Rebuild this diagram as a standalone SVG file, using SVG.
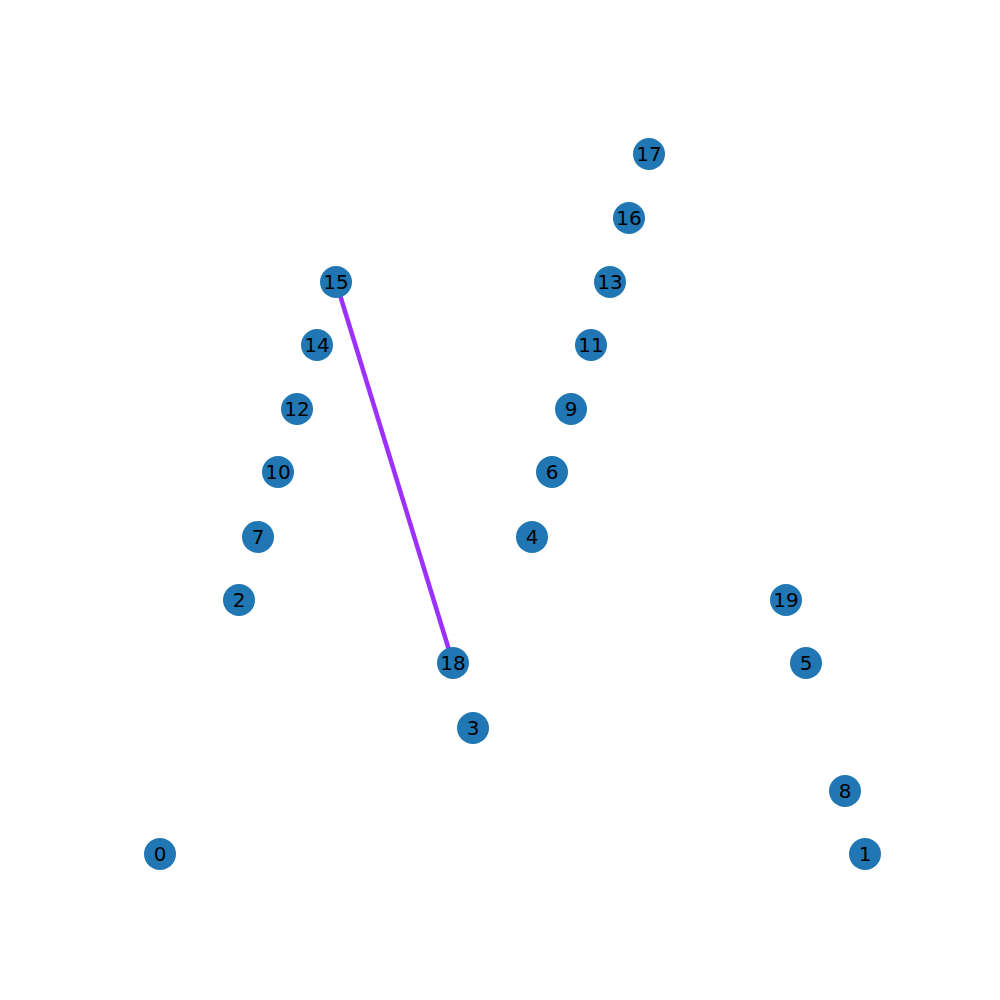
<svg xmlns="http://www.w3.org/2000/svg" width="1000" height="1000" viewBox="0 0 1000 1000">
<style>
.node circle{fill:#2077b4}
.node text{font-family:"DejaVu Sans",sans-serif;font-size:20px;fill:#000;text-anchor:middle;dominant-baseline:central}
.edge{stroke:#9b30ff;stroke-width:4.5;fill:none}
</style>
<rect width="1000" height="1000" fill="#fff"/>
<g id="edges">
<line class="edge" x1="336" y1="282" x2="453" y2="663"/>
</g>
<g id="n17" class="node"><circle cx="649" cy="154" r="16"/><text x="649" y="154">17</text></g>
<g id="n16" class="node"><circle cx="629" cy="218" r="16"/><text x="629" y="218">16</text></g>
<g id="n15" class="node"><circle cx="336" cy="282" r="16"/><text x="336" y="282">15</text></g>
<g id="n13" class="node"><circle cx="610" cy="282" r="16"/><text x="610" y="282">13</text></g>
<g id="n14" class="node"><circle cx="317" cy="345" r="16"/><text x="317" y="345">14</text></g>
<g id="n11" class="node"><circle cx="591" cy="345" r="16"/><text x="591" y="345">11</text></g>
<g id="n12" class="node"><circle cx="297" cy="409" r="16"/><text x="297" y="409">12</text></g>
<g id="n9" class="node"><circle cx="571" cy="409" r="16"/><text x="571" y="409">9</text></g>
<g id="n10" class="node"><circle cx="278" cy="472" r="16"/><text x="278" y="472">10</text></g>
<g id="n6" class="node"><circle cx="552" cy="472" r="16"/><text x="552" y="472">6</text></g>
<g id="n7" class="node"><circle cx="258" cy="537" r="16"/><text x="258" y="537">7</text></g>
<g id="n4" class="node"><circle cx="532" cy="537" r="16"/><text x="532" y="537">4</text></g>
<g id="n2" class="node"><circle cx="239" cy="600" r="16"/><text x="239" y="600">2</text></g>
<g id="n19" class="node"><circle cx="786" cy="600" r="16"/><text x="786" y="600">19</text></g>
<g id="n18" class="node"><circle cx="453" cy="663" r="16"/><text x="453" y="663">18</text></g>
<g id="n5" class="node"><circle cx="806" cy="663" r="16"/><text x="806" y="663">5</text></g>
<g id="n3" class="node"><circle cx="473" cy="728" r="16"/><text x="473" y="728">3</text></g>
<g id="n8" class="node"><circle cx="845" cy="791" r="16"/><text x="845" y="791">8</text></g>
<g id="n0" class="node"><circle cx="160" cy="854" r="16"/><text x="160" y="854">0</text></g>
<g id="n1" class="node"><circle cx="865" cy="854" r="16"/><text x="865" y="854">1</text></g>
</svg>
